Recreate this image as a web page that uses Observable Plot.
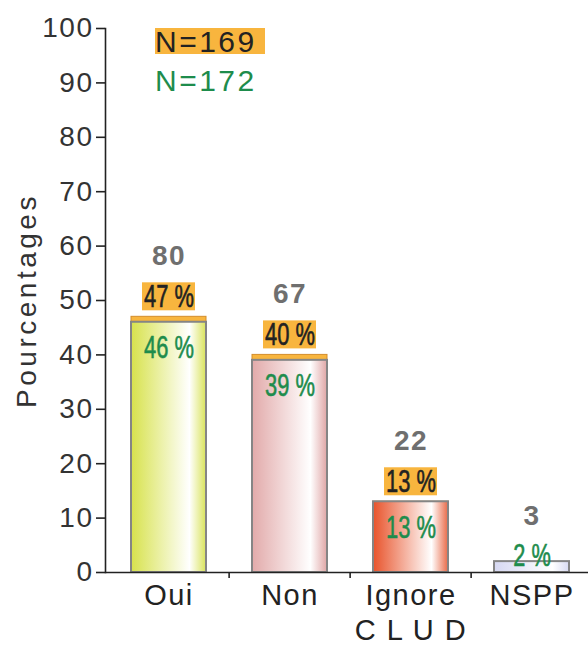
<!DOCTYPE html>
<html><head><meta charset="utf-8">
<script src="https://cdn.jsdelivr.net/npm/d3@7"></script>
<script src="https://cdn.jsdelivr.net/npm/@observablehq/plot@0.6"></script>
<style>
body{margin:0;background:#fff;}
#wrap{position:relative;width:588px;height:645px;font-family:"Liberation Sans",Arial,sans-serif;}
.leg{position:absolute;left:155px;width:110px;height:26px;line-height:27px;font-size:30px;letter-spacing:2.5px;white-space:nowrap;}
</style></head><body><div id="wrap"></div>
<script>
// ---- data ----
const categories = ["Oui", "Non", "Ignore\nC L U D", "NSPP"];
const counts = [80, 67, 22, 3];
const pctN172 = [46, 39, 13, 2];      // green series (bars)
const pctN169 = [47, 40, 13, null];   // orange series
const yTicks = [0, 10, 20, 30, 40, 50, 60, 70, 80, 90, 100];
const legendLabels = ["N=169", "N=172"];
const yLabel = "Pourcentages";
const barColors = [
  ["#d7e24c", "#d9e35a"],
  ["#e2aaaa", "#e0a6a6"],
  ["#e8532b", "#e86a48"],
  ["#d6d8f2", "#d8daf2"]
];

const rows = categories.map((c, i) => ({
  cat: c, count: counts[i], green: pctN172[i], orange: pctN169[i], grad: `url(#grad${i})`
}));
const withO = rows.filter(d => d.orange != null);
const noO = rows.filter(d => d.orange == null);

const W = 588, H = 645;
const xRange = [107, 594];
const step = (xRange[1] - xRange[0]) / categories.length;
const orange = "#f8b53e", green = "#1e8c4c", grey = "#6f6f6f";

const chart = Plot.plot({
  width: W, height: H,
  marginLeft: 105, marginRight: 0, marginTop: 28, marginBottom: 73,
  style: {fontFamily: "Liberation Sans, Arial, sans-serif", color: "#222", background: "white"},
  x: {domain: categories, range: xRange, paddingInner: 0.38, paddingOuter: 0.19},
  y: {domain: [0, 100]},
  color: {type: "identity"},
  marks: [
    Plot.barY(withO, {x: "cat", y: "orange", fill: orange, stroke: "#d38d2c", strokeWidth: 1}),
    Plot.barY(rows, {x: "cat", y: "green", fill: "grad", stroke: "#858585", strokeWidth: 2}),
    Plot.barY(withO, {x: "cat", y1: "orange", y2: "orange", fill: orange, insetLeft: 11, insetRight: 11, insetTop: -34, insetBottom: 6}),
    Plot.text(withO, {x: "cat", y: "orange", text: d => `${d.orange} %`, dy: -20, fill: "#222", stroke: "#222", strokeWidth: 0.6, fontSize: 31}),
    Plot.text(withO, {x: "cat", y: "orange", text: d => String(d.count), dy: -61, fill: grey, fontSize: 28, fontWeight: "bold"}),
    Plot.text(noO, {x: "cat", y: "green", text: d => String(d.count), dy: -46, fill: grey, fontSize: 28, fontWeight: "bold"}),
    Plot.text(withO, {x: "cat", y: "green", text: d => `${d.green} %`, dy: 26, fill: green, stroke: green, strokeWidth: 0.6, fontSize: 31}),
    Plot.text(noO, {x: "cat", y: "green", text: d => `${d.green} %`, dy: -6, fill: green, stroke: green, strokeWidth: 0.6, fontSize: 31}),
    Plot.ruleY([0], {stroke: "#222", strokeWidth: 1.6}),
    Plot.frame({anchor: "left", stroke: "#222", strokeWidth: 1.6}),
    Plot.ruleX(categories.slice(1), {dx: -step / 2, y1: 0, y2: -1.1, stroke: "#222", strokeWidth: 1.6}),
    Plot.axisY({ticks: yTicks, tickSize: 9, tickPadding: 3, fontSize: 28, label: null, fill: "#333", strokeWidth: 1.6}),
    Plot.axisX({tickSize: 0, tickPadding: 8, fontSize: 29, label: null, lineHeight: 1.2, fill: "#222"}),
    Plot.text([yLabel], {frameAnchor: "left", textAnchor: "middle", rotate: -90, dx: -78, fontSize: 28, fill: "#333"})
  ]
});

// gradients
const svg = d3.select(chart);
const defs = svg.insert("defs", ":first-child");
barColors.forEach((c, i) => {
  const g = defs.append("linearGradient").attr("id", `grad${i}`).attr("x1", "0").attr("x2", "1").attr("y1", "0").attr("y2", "0");
  g.append("stop").attr("offset", "0").attr("stop-color", c[0]);
  g.append("stop").attr("offset", "0.78").attr("stop-color", "#ffffff");
  g.append("stop").attr("offset", "1").attr("stop-color", c[1]);
});
svg.selectAll("text").style("letter-spacing", "1.5px");
// condensed percentage labels
svg.selectAll("text").each(function () {
  const t = this.textContent;
  if (t === yLabel) this.style.letterSpacing = "3.5px";
  if (/%$/.test(t)) {
    this.setAttribute("textLength", t.length * 12.5);
    this.setAttribute("lengthAdjust", "spacingAndGlyphs");
    this.style.letterSpacing = "0px";
  }
});

const wrap = document.getElementById("wrap");
wrap.appendChild(chart);
const l1 = document.createElement("div");
l1.className = "leg"; l1.style.top = "28px"; l1.style.background = orange; l1.style.color = "#222";
l1.textContent = legendLabels[0];
const l2 = document.createElement("div");
l2.className = "leg"; l2.style.top = "67px"; l2.style.color = green;
l2.textContent = legendLabels[1];
wrap.appendChild(l1); wrap.appendChild(l2);
</script></body></html>
